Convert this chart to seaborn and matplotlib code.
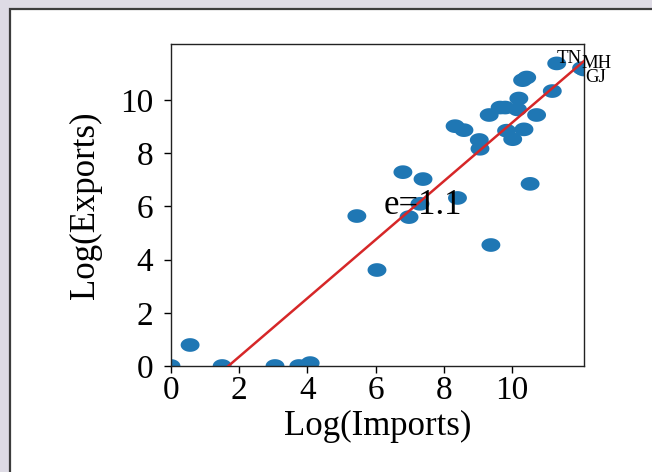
import numpy as np
import matplotlib
matplotlib.use("Agg")
import matplotlib.pyplot as plt
import seaborn as sns
from matplotlib.patches import Rectangle

# log(imports) vs log(exports), one point per state
imports = [0.0, 0.56, 1.5, 3.05, 3.75, 4.08, 5.45, 6.04, 6.8, 6.98,
           7.39, 7.3, 8.4, 9.38, 10.53, 9.06, 9.04, 10.02, 8.33, 8.59,
           9.84, 10.35, 9.33, 10.72, 9.65, 9.8, 10.16, 10.2, 11.18, 10.31,
           10.43]
exports = [0.0, 0.79, 0.0, 0.0, 0.0, 0.11, 5.64, 3.61, 7.29, 5.6,
           7.03, 6.1, 6.32, 4.55, 6.85, 8.17, 8.5, 8.53, 9.02, 8.87,
           8.85, 8.9, 9.44, 9.44, 9.72, 9.72, 9.65, 10.06, 10.34, 10.75,
           10.85]

# the labelled states
lab_states = ["TN", "MH", "GJ"]
lab_imports = [11.31, 12.04, 12.11]
lab_exports = [11.38, 11.2, 11.15]

# fitted line, elasticity e=1.1
fit_x = [0.0, 12.11]
fit_y = [-1.85, 11.47]
elasticity = "e=1.1"

all_x = imports + lab_imports
all_y = exports + lab_exports

fig = plt.figure(figsize=(6.52, 4.72), dpi=100)
plt.rcParams['font.family'] = ['Liberation Serif', 'DejaVu Serif']

# screenshot-like frame
fig.patch.set_facecolor("#dedbe5")
fig.patches.append(Rectangle((10/652, -0.1), 1.2, (472-8.5)/472 + 0.1,
                             transform=fig.transFigure, facecolor="white",
                             edgecolor="#3c3c3c", linewidth=1.6, zorder=-1))

ax = fig.add_axes([171/652, 106/472, 413/652, 322/472])

# ellipse marker (the reference is stretched horizontally)
t = np.linspace(0, 2*np.pi, 60)
ell = np.column_stack([np.cos(t), np.sin(t)/1.38])

sns.scatterplot(x=all_x, y=all_y, ax=ax, color="#1f77b4", marker=ell,
                s=185, edgecolor="none", linewidth=0, zorder=2)
sns.lineplot(x=fit_x, y=fit_y, ax=ax, color="#d62728", linewidth=1.8, zorder=3)

lim = max(all_x)
ax.set_xlim(0, lim)
ax.set_ylim(0, lim)
ax.set_xticks([0, 2, 4, 6, 8, 10])
ax.set_yticks([0, 2, 4, 6, 8, 10])
ax.tick_params(labelsize=24, length=5, width=1.0)
ax.tick_params(axis="x", pad=2)
ax.tick_params(axis="y", pad=8)
for s in ax.spines.values():
    s.set_linewidth(1.0)
    s.set_color("#222222")

ax.set_xlabel("Log(Imports)", fontsize=25, labelpad=3)
ax.set_ylabel("Log(Exports)", fontsize=25, labelpad=13)

ax.text(6.22, 5.7, elasticity, fontsize=25, ha="left", va="baseline", zorder=4)

offsets = [(0, 0), (0, 0), (1, -9)]
for name, xx, yy, off in zip(lab_states, lab_imports, lab_exports, offsets):
    ax.annotate(name, (xx, yy), xytext=off, textcoords="offset points",
                fontsize=13.5, ha="left", va="baseline", annotation_clip=False, zorder=4)

fig.savefig("out.png", dpi=100, facecolor=fig.get_facecolor())
